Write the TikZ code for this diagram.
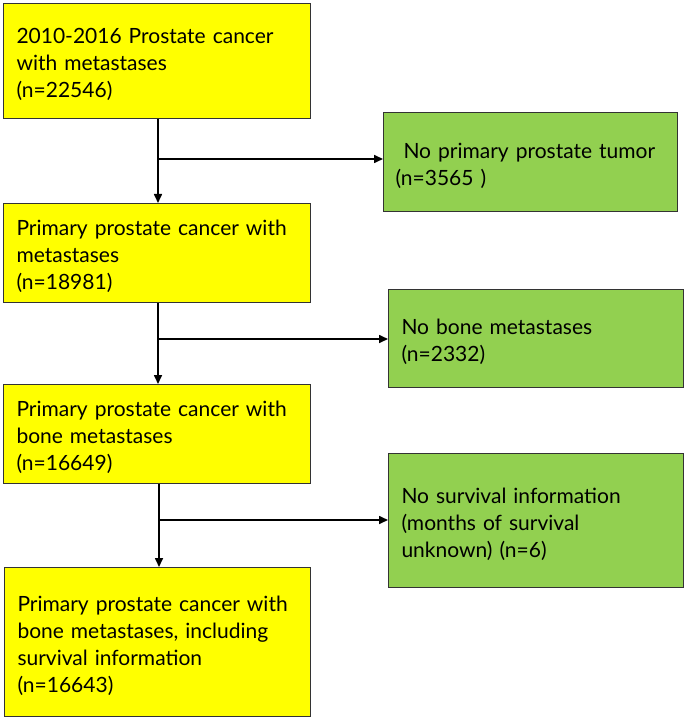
\documentclass[tikz,border=0pt]{standalone}
\usepackage{fontspec}
\setmainfont{Lato}
\usetikzlibrary{arrows.meta,calc}
\definecolor{boxyellow}{HTML}{FFFF00}
\definecolor{boxgreen}{HTML}{92D050}
\definecolor{edge}{HTML}{333333}
\tikzset{
  stagebox/.style={draw=edge, line width=1pt, fill=boxyellow, rectangle, anchor=north west,
    align=left, inner xsep=13pt, inner ysep=0pt,
    font=\fontsize{21}{27}\selectfont,
    execute at begin node={\rule{0pt}{23pt}}},
  exclbox/.style={stagebox, fill=boxgreen},
  flow/.style={line width=1.6pt, draw=black, -{Triangle[length=9pt,width=8pt]}},
}
\begin{document}
\begin{tikzpicture}[x=1pt,y=-1pt]
\useasboundingbox (0,0) rectangle (685,719);
% main column
\node[stagebox, minimum width=307pt, minimum height=115pt, text width=281pt] (y1) at (3,3)
  {2010-2016 Prostate cancer\\with metastases\\(n=22546)};
\node[stagebox, minimum width=307pt, minimum height=99pt, text width=281pt] (y2) at (3,203)
  {Primary prostate cancer with\\metastases\\(n=18981)};
\node[stagebox, minimum width=307pt, minimum height=99pt, text width=281pt] (y3) at (3,384)
  {Primary prostate cancer with\\bone metastases\\(n=16649)};
\node[stagebox, minimum width=306pt, minimum height=149pt, text width=280pt] (y4) at (4,567)
  {Primary prostate cancer with\\bone metastases, including\\survival information\\(n=16643)};
% exclusions
\node[exclbox, minimum width=294pt, minimum height=99pt, text width=270pt, inner xsep=12pt] (g1) at (383,112)
  {\hspace*{8pt}No primary prostate tumor\\(n=3565 )};
\node[exclbox, minimum width=295pt, minimum height=98pt, text width=269pt] (g2) at (388,289)
  {No bone metastases\\(n=2332)};
\node[exclbox, minimum width=295pt, minimum height=134pt, text width=269pt] (g3) at (388,453)
  {No survival information\\(months of survival\\unknown) (n=6)};
% branch points
\coordinate (b1) at (158,159);
\coordinate (b2) at (158,339);
\coordinate (b3) at (159,520);
\draw[flow] (y1.south -| b1) -- (y2.north -| b1);
\draw[flow] (b1) -- (g1.west |- b1);
\draw[flow] (y2.south -| b2) -- (y3.north -| b2);
\draw[flow] (b2) -- (g2.west |- b2);
\draw[flow] (y3.south -| b3) -- (y4.north -| b3);
\draw[flow] (b3) -- (g3.west |- b3);
\end{tikzpicture}
\end{document}
